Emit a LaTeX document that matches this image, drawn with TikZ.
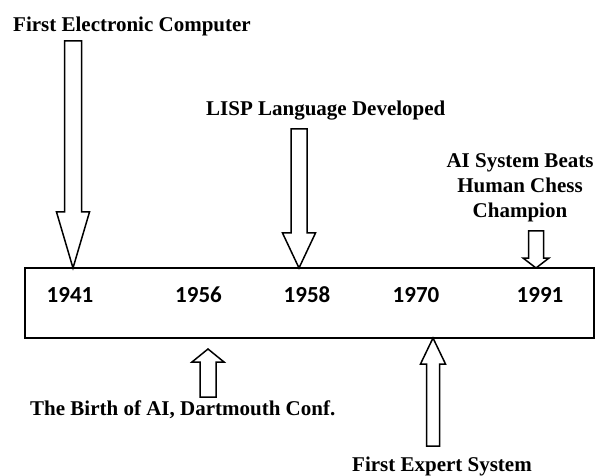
\documentclass[tikz,border=0pt]{standalone}
\usepackage{fontspec}
\setmainfont{Liberation Serif}
\newfontfamily\yearfont{Carlito}

% Hollow block arrow: #1 tip coordinate, #2 direction (1 = points down, -1 = points up),
% #3 head length, #4 head half width, #5 shaft half width, #6 total length
\newcommand\blockarrow[6]{%
  \draw[arrowbody] (#1) -- ++({-(#4)},{-(#2)*(#3)}) -- ++({(#4)-(#5)},0)
    -- ++(0,{-(#2)*((#6)-(#3))}) -- ++({2*(#5)},0)
    -- ++(0,{(#2)*((#6)-(#3))}) -- ++({(#4)-(#5)},0) -- cycle;}

\begin{document}
\begin{tikzpicture}[x=1pt,y=-1pt,
  event/.style={font=\bfseries\fontsize{21}{24}\selectfont, inner sep=0pt},
  year/.style={font=\yearfont\bfseries\fontsize{23}{26}\selectfont, inner sep=0pt, anchor=base},
  arrowbody/.style={draw=black, fill=white, line width=1.5pt, line join=miter},
  bar/.style={draw=black, line width=1.6pt, fill=white, inner sep=0pt}]
  \useasboundingbox (0,0) rectangle (595,476);

  % timeline bar
  \node[bar, minimum width=569pt, minimum height=70pt] (bar) at (309.5,303) {};

  % years
  \node[year] (y1941) at (70,302) {1941};
  \node[year] (y1956) at (198.5,302) {1956};
  \node[year] (y1958) at (307,302) {1958};
  \node[year] (y1970) at (416,302) {1970};
  \node[year] (y1991) at (540,302) {1991};

  % arrow tips on the bar
  \coordinate (a1941) at (73,268);
  \coordinate (a1958) at (299,268);
  \coordinate (a1991) at (536,268);
  \coordinate (a1956) at (208,349);
  \coordinate (a1970) at (433,338);

  % events above the bar
  \blockarrow{a1941}{1}{56}{16.5}{8.5}{227}
  \blockarrow{a1958}{1}{35}{16.5}{8}{139}
  \blockarrow{a1991}{1}{10}{13}{7.5}{37}
  % events below the bar
  \blockarrow{a1956}{-1}{13}{16}{8}{48}
  \blockarrow{a1970}{-1}{26}{12.5}{6.5}{108}

  % event labels
  \node[event, anchor=base west] (eComputer) at (13,31.5) {First Electronic Computer};
  \node[event, anchor=base west] (eLisp) at (206,115.5) {LISP Language Developed};
  \node[event, anchor=base] (eChess1) at (520,168) {AI System Beats};
  \node[event, anchor=base] (eChess2) at (520,193) {Human Chess};
  \node[event, anchor=base] (eChess3) at (520,218) {Champion};
  \node[event, anchor=base west] (eBirth) at (30,415) {The Birth of AI, Dartmouth Conf.};
  \node[event, anchor=base east] (eExpert) at (532,471.5) {First Expert System};
\end{tikzpicture}
\end{document}
